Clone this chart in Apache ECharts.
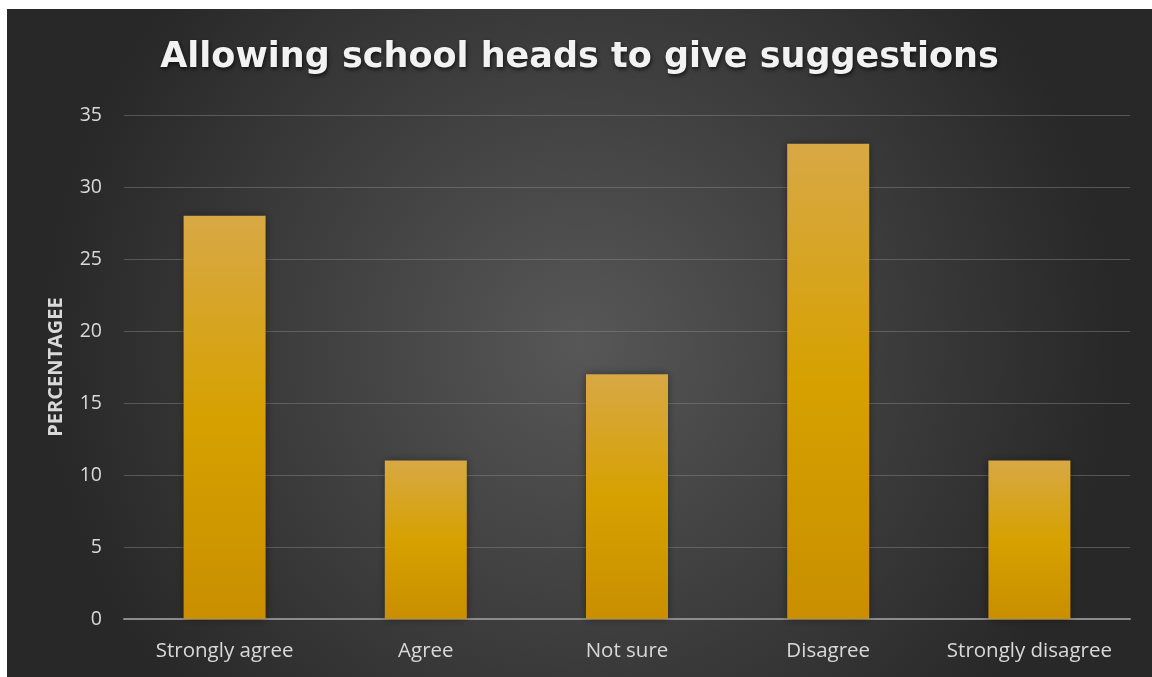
<!DOCTYPE html>
<html>
<head>
<meta charset="utf-8">
<script src="https://cdn.jsdelivr.net/npm/echarts@6/dist/echarts.min.js"></script>
<style>
html,body{margin:0;padding:0;background:#ffffff;width:1152px;height:677px;overflow:hidden;}
#chart{position:absolute;left:7px;top:9px;width:1145px;height:668px;}
</style>
</head>
<body>
<div id="chart"></div>
<script>
const titleText = 'Allowing school heads to give suggestions';
const yAxisName = 'PERCENTAGEE';
const categories = ['Strongly agree', 'Agree', 'Not sure', 'Disagree', 'Strongly disagree'];
const values = [28, 11, 17, 33, 11];
const yTicks = { min: 0, max: 35, interval: 5 };

const chart = echarts.init(document.getElementById('chart'));
chart.setOption({
  backgroundColor: {
    type: 'radial', x: 0.5, y: 0.5, r: 0.8,
    colorStops: [
      { offset: 0, color: '#575757' },
      { offset: 1, color: '#282828' }
    ]
  },
  title: {
    text: titleText,
    left: 'center',
    top: 26,
    textStyle: {
      color: '#f2f2f2',
      fontFamily: 'DejaVu Sans',
      fontWeight: 'bold',
      fontSize: 35,
      textShadowColor: 'rgba(0,0,0,0.7)',
      textShadowBlur: 4,
      textShadowOffsetX: 1,
      textShadowOffsetY: 2
    }
  },
  grid: { left: 117, right: 22, top: 106, bottom: 58, containLabel: false },
  xAxis: {
    type: 'category',
    data: categories,
    axisLine: { show: true, lineStyle: { color: '#8c8c8c', width: 2 } },
    axisTick: { show: false },
    axisLabel: { color: '#d9d9d9', fontFamily: 'Open Sans', fontSize: 20.5, margin: 22, interval: 0, hideOverlap: false }
  },
  yAxis: {
    type: 'value',
    min: yTicks.min, max: yTicks.max, interval: yTicks.interval,
    name: yAxisName,
    nameLocation: 'middle',
    nameGap: 58,
    nameRotate: 90,
    nameTextStyle: { color: '#d9d9d9', fontFamily: 'Open Sans', fontWeight: 'bold', fontSize: 20 },
    axisLine: { show: false },
    axisTick: { show: false },
    axisLabel: { color: '#d9d9d9', fontFamily: 'Open Sans', fontSize: 19.5, margin: 22 },
    splitLine: { lineStyle: { color: 'rgba(140,140,140,0.45)', width: 1 } }
  },
  series: [{
    type: 'bar',
    data: values,
    barWidth: 82,
    itemStyle: {
      color: {
        type: 'linear', x: 0, y: 0, x2: 0, y2: 1,
        colorStops: [
          { offset: 0, color: '#d8a845' },
          { offset: 0.5, color: '#d6a100' },
          { offset: 1, color: '#c98f00' }
        ]
      },
      shadowColor: 'rgba(0,0,0,0.4)',
      shadowBlur: 8,
      shadowOffsetX: 0,
      shadowOffsetY: 0
    },
    animation: false
  }],
  animation: false
});
</script>
</body>
</html>
